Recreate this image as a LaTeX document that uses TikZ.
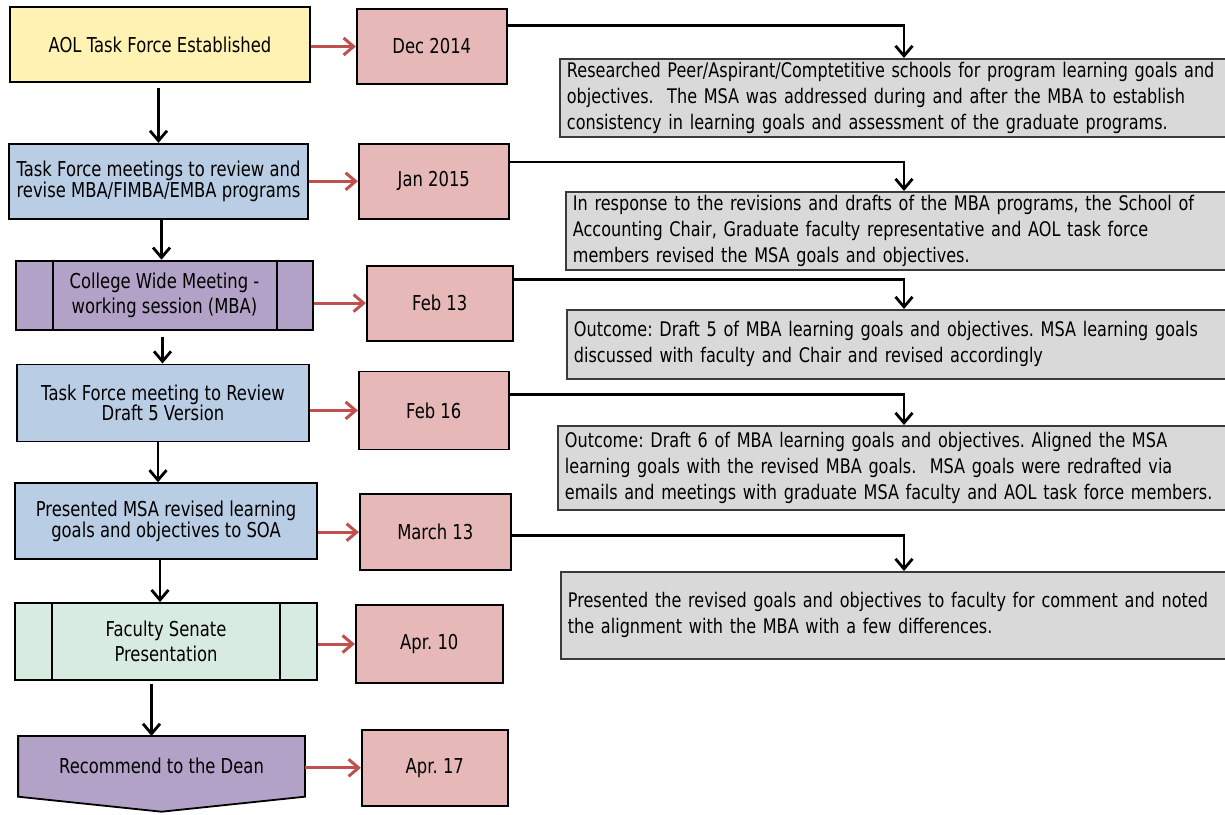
\documentclass[tikz,border=0pt]{standalone}
\usepackage{fontspec}
\setmainfont{DejaVu Sans}[FakeStretch=0.8]
\frenchspacing
\usetikzlibrary{arrows.meta,positioning,backgrounds}
\definecolor{startyel}{HTML}{FFF2B2}
\definecolor{taskblue}{HTML}{B9CDE5}
\definecolor{meetpurp}{HTML}{B3A2C7}
\definecolor{senmint}{HTML}{D8EBE0}
\definecolor{datepink}{HTML}{E6B8B7}
\definecolor{notefill}{HTML}{D9D9D9}
\definecolor{noteline}{HTML}{3A3A3A}
\definecolor{arrred}{HTML}{C0504D}
\tikzset{
  stepbox/.style ={draw, line width=1.8pt, align=center, inner sep=2pt,
                   font=\fontsize{20.5pt}{19pt}\selectfont},
  datebox/.style ={stepbox, fill=datepink, minimum height=75pt},
  notebox/.style ={draw=noteline, line width=1.8pt, fill=notefill, align=left,
                   anchor=north west, text width=668pt, inner xsep=7pt,
                   font=\fontsize{20.1pt}{26pt}\selectfont},
  bar/.style     ={line width=1.8pt},
  flow/.style    ={-{Straight Barb[length=10pt,width=17pt]}, line width=2.8pt},
  rflow/.style   ={flow, draw=arrred, line width=3pt},
  link/.style    ={flow},
}
\begin{document}
\begin{tikzpicture}[x=1pt, y=-1pt]
\useasboundingbox (0,0) rectangle (1225,814);

% ---- process column --------------------------------------------------
\node[stepbox, fill=startyel, minimum width=300pt, minimum height=75pt]
  (aol) at (160,44.5) {AOL Task Force Established};
\node[stepbox, fill=taskblue, minimum width=299pt, minimum height=75pt,
      below=60pt of aol, xshift=-1.5pt] (tfm)
  {Task Force meetings to review and\\revise MBA/FIMBA/EMBA programs};
\node[stepbox, fill=meetpurp, minimum width=297pt, minimum height=69pt,
      below=40pt of tfm, xshift=6pt, font=\fontsize{20.5pt}{25pt}\selectfont] (cwm)
  {College Wide Meeting -\\working session (MBA)};
\node[stepbox, fill=taskblue, minimum width=292pt, minimum height=77pt,
      below=33pt of cwm, xshift=-1.5pt] (tfr)
  {Task Force meeting to Review\\Draft 5 Version};
\node[stepbox, fill=taskblue, minimum width=302pt, minimum height=76pt,
      below=40pt of tfr, xshift=3pt] (msa)
  {Presented MSA revised learning\\goals and objectives to SOA};
\node[stepbox, fill=senmint, minimum width=302pt, minimum height=77pt,
      below=42pt of msa, font=\fontsize{20.5pt}{25pt}\selectfont] (fsp)
  {Faculty Senate\\Presentation};
\node[stepbox, draw=none, minimum width=285pt, minimum height=59pt,
      below=55pt of fsp, xshift=-4.5pt] (dean) {Recommend to the Dean};

\begin{scope}[on background layer]
\draw[bar, fill=meetpurp] (dean.north west) -- (dean.north east)
  -- (dean.south east) -- ([yshift=-15pt]dean.south) -- (dean.south west) -- cycle;
\end{scope}

% side bars of the two process boxes
\draw[bar] ([xshift=38pt]cwm.north west) -- ([xshift=38pt]cwm.south west);
\draw[bar] ([xshift=-37pt]cwm.north east) -- ([xshift=-37pt]cwm.south east);
\draw[bar] ([xshift=38pt]fsp.north west) -- ([xshift=38pt]fsp.south west);
\draw[bar] ([xshift=-38pt]fsp.north east) -- ([xshift=-38pt]fsp.south east);

% ---- dates -----------------------------------------------------------
\node[datebox, minimum width=150pt, right=45pt of aol, yshift=-2pt] (d1) {Dec 2014};
\node[datebox, minimum width=150pt, right=49pt of tfm] (d2) {Jan 2015};
\node[datebox, minimum width=146pt, right=52pt of cwm, yshift=-8pt] (d3) {Feb 13};
\node[datebox, minimum width=150pt, minimum height=78pt,
      right=48pt of tfr, yshift=-7.5pt] (d4) {Feb 16};
\node[datebox, minimum width=151pt, minimum height=76pt,
      right=41pt of msa, yshift=-11pt] (d5) {March 13};
\node[datebox, minimum width=147pt, minimum height=78pt,
      right=37pt of fsp, yshift=-2.5pt] (d6) {Apr. 10};
\node[datebox, minimum width=146pt, minimum height=76pt,
      right=56pt of dean, yshift=-1.5pt] (d7) {Apr. 17};

% ---- notes -----------------------------------------------------------
\node[notebox, minimum height=78pt] (n1) at (559,58)
  {Researched Peer/Aspirant/Comptetitive schools for program learning goals and\\
   objectives.~ The MSA was addressed during and after the MBA to establish\\
   consistency in learning goals and assessment of the graduate programs.};
\node[notebox, minimum height=73pt] (n2) at (565,191)
  {In response to the revisions and drafts of the MBA programs, the School of\\
   Accounting Chair, Graduate faculty representative and AOL task force\\
   members revised the MSA goals and objectives.};
\node[notebox, minimum height=69pt] (n3) at (566,309)
  {Outcome: Draft 5 of MBA learning goals and objectives. MSA learning goals\\
   discussed with faculty and Chair and revised accordingly};
\node[notebox, minimum height=84pt] (n4) at (557,425)
  {Outcome: Draft 6 of MBA learning goals and objectives. Aligned the MSA\\
   learning goals with the revised MBA goals.~ MSA goals were redrafted via\\
   emails and meetings with graduate MSA faculty and AOL task force members.};
\node[notebox, minimum height=87pt] (n5) at (560,571)
  {Presented the revised goals and objectives to faculty for comment and noted\\
   the alignment with the MBA with a few differences.};

\coordinate (drop) at (904,0);

% ---- connectors ------------------------------------------------------
\draw[flow, shorten <=5pt] (aol.south -| tfm.north) -- (tfm.north);
\draw[flow] ([xshift=3pt]tfm.south) -- ([xshift=3pt]tfm.south |- cwm.north);
\draw[flow, shorten <=6pt] ([xshift=-2pt]cwm.south) -- ([xshift=-2pt]cwm.south |- tfr.north);
\draw[flow] ([xshift=-5pt]tfr.south) -- ([xshift=-5pt]tfr.south |- msa.north);
\draw[flow] ([xshift=-6pt]msa.south) -- ([xshift=-6pt]msa.south |- fsp.north);
\draw[flow, shorten <=3pt] ([xshift=-10pt]dean.north |- fsp.south) -- ([xshift=-10pt]dean.north);

\foreach \s/\d in {aol/d1, tfm/d2, cwm/d3, tfr/d4, msa/d5, fsp/d6, dean/d7}
  \draw[rflow] (\d.west -| \s.east) -- (\d.west);

\draw[link] ([yshift=-17pt]d1.north east) -| (n1.north -| drop);
\draw[link] ([yshift=-19pt]d2.north east) -| (n2.north -| drop);
\draw[link] ([yshift=-15pt]d3.north east) -| (n3.north -| drop);
\draw[link] ([yshift=-24pt]d4.north east) -| (n4.north -| drop);
\draw[link] ([yshift=-42pt]d5.north east) -| (n5.north -| drop);

\end{tikzpicture}
\end{document}
